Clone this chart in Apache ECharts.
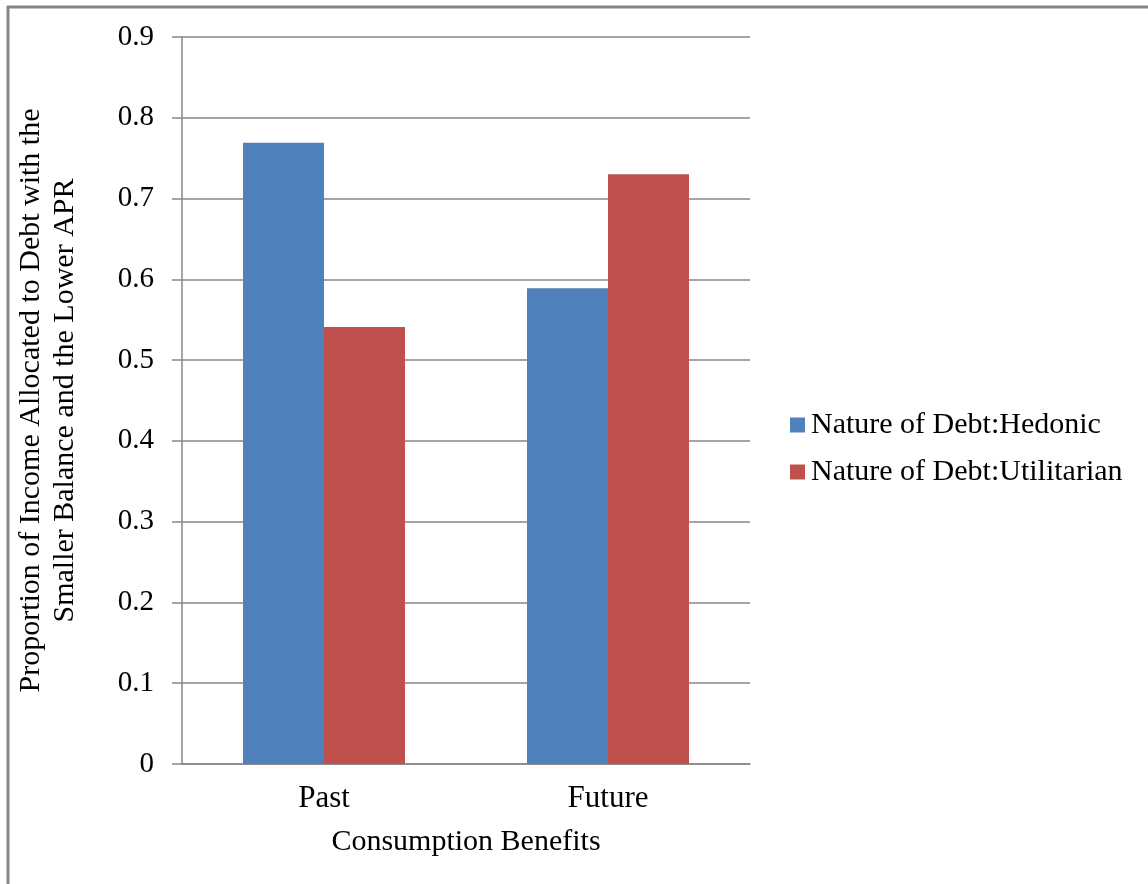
<!DOCTYPE html>
<html>
<head>
<meta charset="utf-8">
<script src="https://cdn.jsdelivr.net/npm/echarts@6/dist/echarts.min.js"></script>
<style>
html,body{margin:0;padding:0;background:#fff;}
#chart{width:1148px;height:884px;}
</style>
</head>
<body>
<div id="chart"></div>
<script>
const categories = ['Past', 'Future'];
const seriesNames = ['Nature of Debt:Hedonic', 'Nature of Debt:Utilitarian'];
const hedonicValues = [0.769, 0.589];
const utilitarianValues = [0.541, 0.730];
const xAxisTitle = 'Consumption Benefits';
const yAxisTitle = 'Proportion of Income Allocated to Debt with the\nSmaller Balance and the Lower APR';

const FONT = '"Liberation Serif", "Times New Roman", serif';
const GRAY = '#868686';

const chart = echarts.init(document.getElementById('chart'));
chart.setOption({
  backgroundColor: '#fff',
  animation: false,
  textStyle: { fontFamily: FONT, color: '#000' },
  grid: { left: 182, right: 398, top: 37, bottom: 120, containLabel: false },
  legend: {
    orient: 'vertical',
    left: 790,
    top: 410,
    padding: 0,
    itemWidth: 15,
    itemHeight: 15,
    itemGap: 17,
    icon: 'rect',
    textStyle: { fontFamily: FONT, fontSize: 30, color: '#000', padding: [0, 0, 0, 1] },
    data: seriesNames
  },
  xAxis: {
    type: 'category',
    data: categories,
    name: xAxisTitle,
    nameLocation: 'middle',
    nameGap: 63,
    nameTextStyle: { fontFamily: FONT, fontSize: 30, color: '#000' },
    axisLine: { lineStyle: { color: GRAY, width: 1.5 } },
    axisTick: { show: false },
    axisLabel: { fontFamily: FONT, fontSize: 31, color: '#000', margin: 19 }
  },
  yAxis: {
    type: 'value',
    min: 0,
    max: 0.9,
    interval: 0.1,
    name: yAxisTitle,
    nameLocation: 'middle',
    nameGap: 100,
    nameRotate: 90,
    nameTextStyle: { fontFamily: FONT, fontSize: 30, color: '#000', lineHeight: 34 },
    axisLine: { show: true, lineStyle: { color: GRAY, width: 1.5 } },
    axisTick: { show: true, length: 10, lineStyle: { color: GRAY, width: 1.5 } },
    splitLine: { show: true, lineStyle: { color: GRAY, width: 1.5 } },
    axisLabel: {
      fontFamily: FONT, fontSize: 29, color: '#000', margin: 28,
      formatter: v => (Math.round(v * 10) / 10).toString()
    }
  },
  series: [
    {
      name: seriesNames[0], type: 'bar', data: hedonicValues,
      itemStyle: { color: '#4F81BD' },
      barWidth: 81, barGap: '0%'
    },
    {
      name: seriesNames[1], type: 'bar', data: utilitarianValues,
      itemStyle: { color: '#C0504D' },
      barWidth: 81, barGap: '0%'
    }
  ],
  graphic: [
    { type: 'line', shape: { x1: 7, y1: 7, x2: 1148, y2: 7 }, style: { stroke: GRAY, lineWidth: 3 } },
    { type: 'line', shape: { x1: 8, y1: 6, x2: 8, y2: 884 }, style: { stroke: GRAY, lineWidth: 3 } }
  ]
});
</script>
</body>
</html>
